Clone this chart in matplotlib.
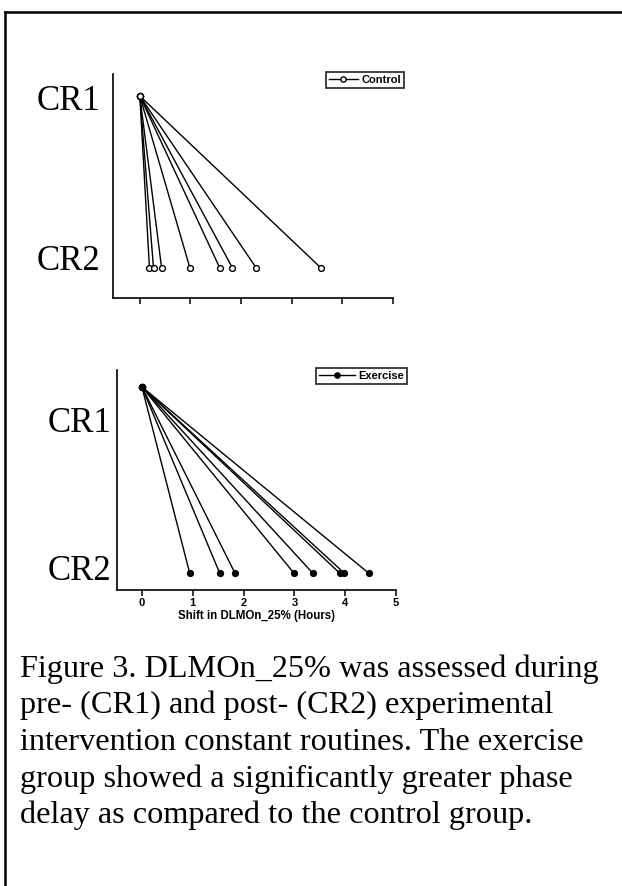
import matplotlib
matplotlib.use("Agg")
import matplotlib.pyplot as plt
from matplotlib.lines import Line2D

plt.rcParams["font.family"] = ["Liberation Sans", "DejaVu Sans"]

# ---------- data ----------
control_shift = [0.19, 0.27, 0.43, 0.99, 1.58, 1.83, 2.30, 3.58]
exercise_shift = [0.94, 1.53, 1.83, 2.99, 3.36, 3.89, 3.98, 4.46]
xticks = [0, 1, 2, 3, 4, 5]
cr_labels = ["CR1", "CR2"]
xlabel = "Shift in DLMOn_25% (Hours)"
caption = ["Figure 3. DLMOn_25% was assessed during",
           "pre- (CR1) and post- (CR2) experimental",
           "intervention constant routines. The exercise",
           "group showed a significantly greater phase",
           "delay as compared to the control group."]

W, H = 622, 886
fig = plt.figure(figsize=(W / 100, H / 100), dpi=100)


def px_axes(x0, y0, x1, y1):
    # pixel box (top-left origin) -> figure fraction axes
    return fig.add_axes([x0 / W, 1 - y1 / H, (x1 - x0) / W, (y1 - y0) / H])


def style(ax, ylim, xlim, labels):
    ax.set_xlim(*xlim)
    ax.set_ylim(*ylim)
    for s in ["top", "right"]:
        ax.spines[s].set_visible(False)
    for s in ["left", "bottom"]:
        ax.spines[s].set_linewidth(1.2)
    ax.set_yticks([])
    ax.set_xticks(xticks)
    ax.tick_params(axis="x", direction="out", length=4, width=1.1,
                   labelbottom=labels, labelsize=8, pad=2)
    for t in ax.get_xticklabels():
        t.set_fontweight("bold")


def fan(ax, shifts, mfc, label, hl):
    for v in shifts:
        ax.plot([0, v], [1, 0], color="black", lw=1.0, marker="o", ms=4.2,
                mfc=mfc, mec="black", mew=1.0, zorder=3)
    h = Line2D([], [], color="black", lw=1.0, marker="o", ms=3.8, mfc=mfc,
               mec="black", mew=1.0)
    leg = ax.legend([h], [label], loc="upper right", bbox_to_anchor=(1.04, 1.01),
                    frameon=True, fancybox=False, prop={"size": 8, "weight": "bold"},
                    handlelength=hl, handletextpad=0.3, borderpad=0.3,
                    borderaxespad=0.0)
    leg.get_frame().set_edgecolor("black")
    leg.get_frame().set_linewidth(1.3)


# ---------- top: control ----------
ax1 = px_axes(113, 74, 393, 298)
style(ax1, (-0.174, 1.128), (-0.53, 5), False)
fan(ax1, control_shift, "white", "Control", 2.6)

# ---------- bottom: exercise ----------
ax2 = px_axes(117, 370, 396, 590)
style(ax2, (-0.091, 1.091), (-0.49, 5), True)
fan(ax2, exercise_shift, "black", "Exercise", 3.2)
ax2.set_xlabel(xlabel, fontsize=8.3, fontweight="bold", labelpad=1)

serif = ["Liberation Serif", "DejaVu Serif"]
for (x, y), t in zip([(37, 101), (37, 262)], cr_labels):
    fig.text(x / W, 1 - y / H, t, family=serif, fontsize=25, va="center", ha="left")
for (x, y), t in zip([(48, 423), (48, 571)], cr_labels):
    fig.text(x / W, 1 - y / H, t, family=serif, fontsize=25, va="center", ha="left")

for i, line in enumerate(caption):
    fig.text(20 / W, 1 - (669 + i * 36.6) / H, line, family=serif, fontsize=23.2,
             va="center", ha="left")

# page frame (left + top edge)
fig.add_artist(Line2D([5 / W, 5 / W], [0, 1 - 12 / H], color="black", lw=1.8,
                      transform=fig.transFigure))
fig.add_artist(Line2D([5 / W, 1], [1 - 12 / H, 1 - 12 / H], color="black", lw=1.8,
                      transform=fig.transFigure))

fig.savefig("out.png", dpi=100)
